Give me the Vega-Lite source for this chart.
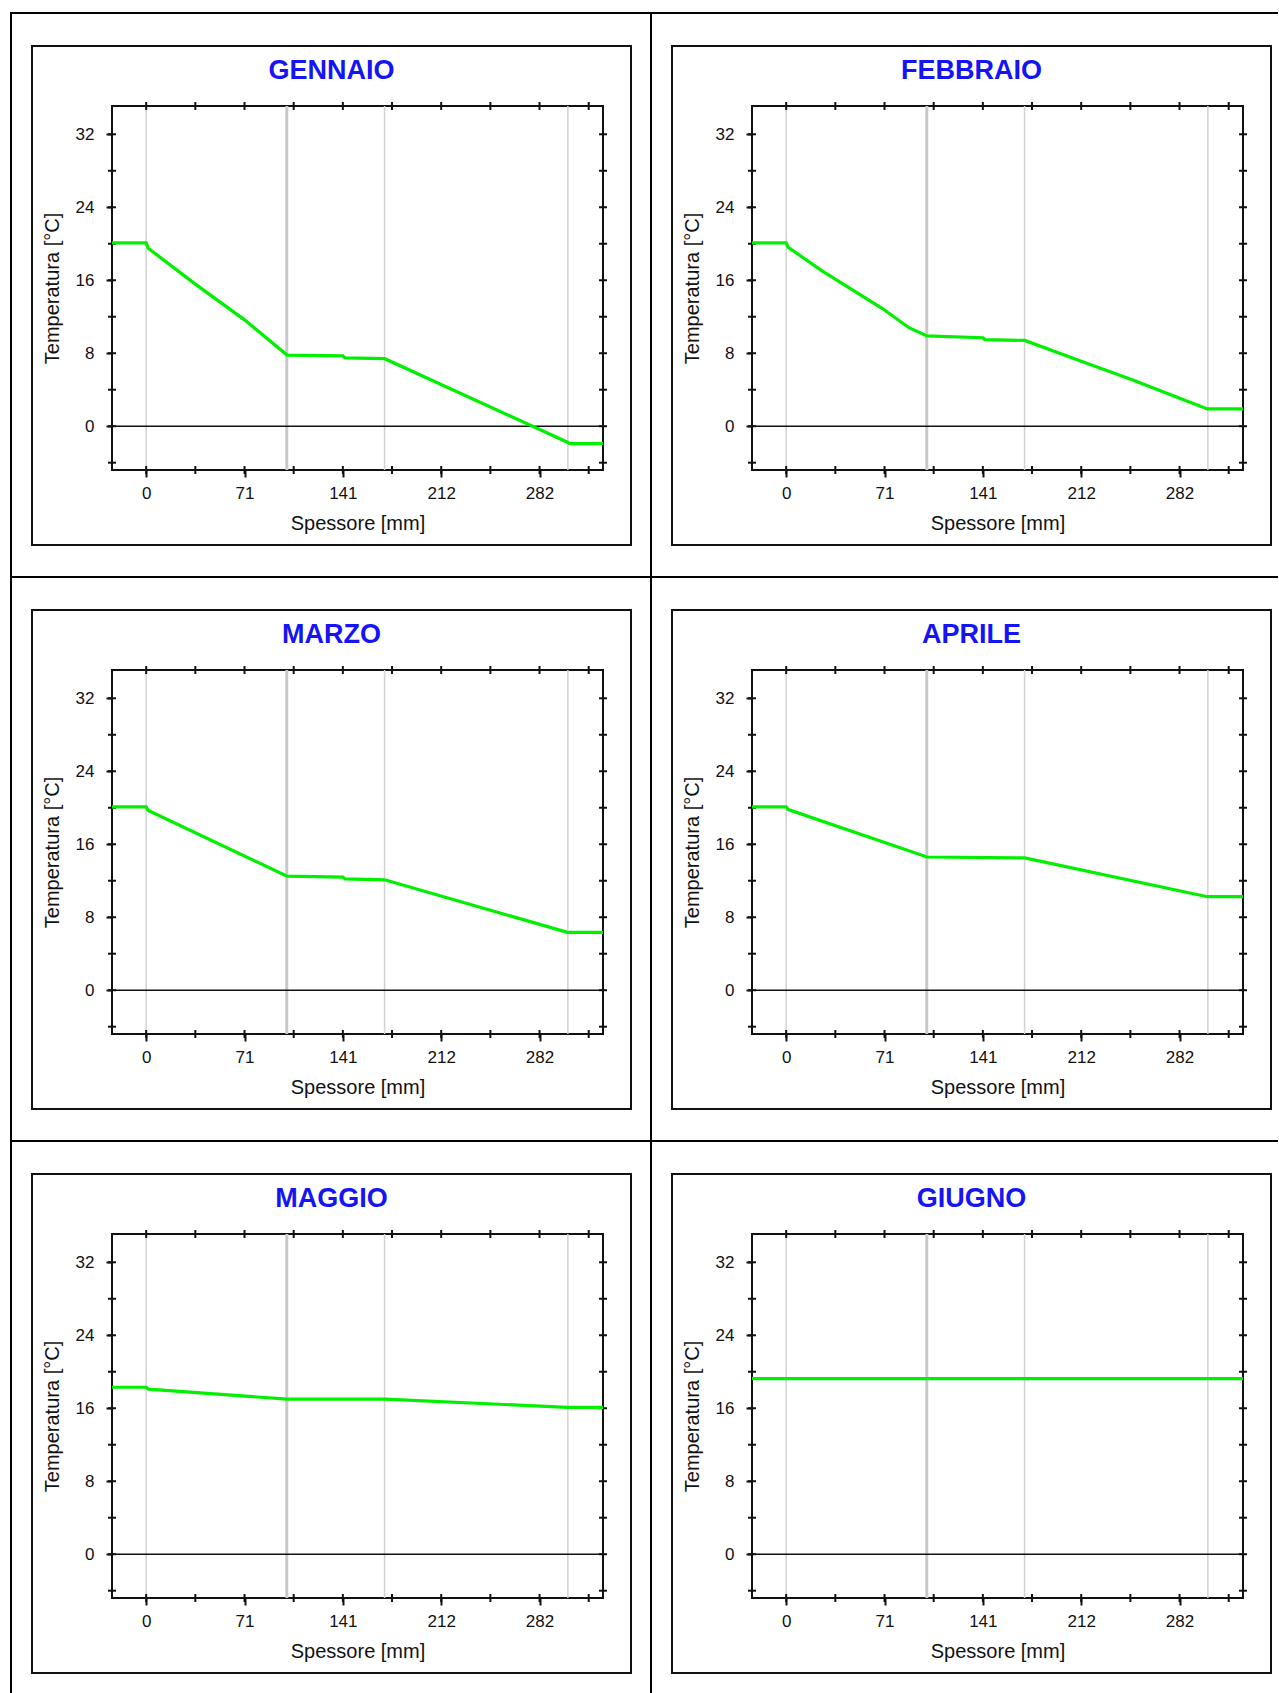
{
"$schema": "https://vega.github.io/schema/vega-lite/v6.json",
"background": "white",
"padding": {"left": 8, "top": 10, "right": 0, "bottom": 0},
"autosize": {"type": "pad"},
"columns": 2,
"spacing": {"row": 200, "column": 149},
"bounds": "flush",
"datasets": {
"strati": [
{"x": 0, "tipo": "sottile"},
{"x": 100.8, "tipo": "spesso"},
{"x": 170.9, "tipo": "sottile"},
{"x": 302.3, "tipo": "sottile"}
],
"tacche_x": [{"v": 0}, {"v": 35.25}, {"v": 70.5}, {"v": 105.75}, {"v": 141}, {"v": 176.25}, {"v": 211.5}, {"v": 246.75}, {"v": 282}, {"v": 317.25}],
"tacche_y": [{"v": -4}, {"v": 0}, {"v": 4}, {"v": 8}, {"v": 12}, {"v": 16}, {"v": 20}, {"v": 24}, {"v": 28}, {"v": 32}],
"temperature": [
{"mese": "GENNAIO", "x": -24.5, "t": 20.1},
{"mese": "GENNAIO", "x": 0, "t": 20.1},
{"mese": "GENNAIO", "x": 1.5, "t": 19.5},
{"mese": "GENNAIO", "x": 35, "t": 15.6},
{"mese": "GENNAIO", "x": 71, "t": 11.6},
{"mese": "GENNAIO", "x": 101, "t": 7.8},
{"mese": "GENNAIO", "x": 141, "t": 7.7},
{"mese": "GENNAIO", "x": 142.5, "t": 7.5},
{"mese": "GENNAIO", "x": 171, "t": 7.4},
{"mese": "GENNAIO", "x": 302, "t": -1.75},
{"mese": "GENNAIO", "x": 303.5, "t": -1.9},
{"mese": "GENNAIO", "x": 327.5, "t": -1.9},
{"mese": "FEBBRAIO", "x": -24.5, "t": 20.1},
{"mese": "FEBBRAIO", "x": 0, "t": 20.1},
{"mese": "FEBBRAIO", "x": 1.5, "t": 19.6},
{"mese": "FEBBRAIO", "x": 26, "t": 17.0},
{"mese": "FEBBRAIO", "x": 69, "t": 12.9},
{"mese": "FEBBRAIO", "x": 88, "t": 10.8},
{"mese": "FEBBRAIO", "x": 101, "t": 9.9},
{"mese": "FEBBRAIO", "x": 141, "t": 9.7},
{"mese": "FEBBRAIO", "x": 142.5, "t": 9.5},
{"mese": "FEBBRAIO", "x": 171, "t": 9.4},
{"mese": "FEBBRAIO", "x": 212, "t": 7.1},
{"mese": "FEBBRAIO", "x": 248, "t": 5.1},
{"mese": "FEBBRAIO", "x": 283, "t": 3.0},
{"mese": "FEBBRAIO", "x": 302, "t": 1.9},
{"mese": "FEBBRAIO", "x": 327.5, "t": 1.9},
{"mese": "MARZO", "x": -24.5, "t": 20.1},
{"mese": "MARZO", "x": 0, "t": 20.1},
{"mese": "MARZO", "x": 1.5, "t": 19.7},
{"mese": "MARZO", "x": 101, "t": 12.5},
{"mese": "MARZO", "x": 141, "t": 12.4},
{"mese": "MARZO", "x": 142.5, "t": 12.2},
{"mese": "MARZO", "x": 171, "t": 12.1},
{"mese": "MARZO", "x": 302, "t": 6.35},
{"mese": "MARZO", "x": 327.5, "t": 6.35},
{"mese": "APRILE", "x": -24.5, "t": 20.1},
{"mese": "APRILE", "x": 0, "t": 20.1},
{"mese": "APRILE", "x": 1.5, "t": 19.8},
{"mese": "APRILE", "x": 101, "t": 14.6},
{"mese": "APRILE", "x": 171, "t": 14.5},
{"mese": "APRILE", "x": 302, "t": 10.25},
{"mese": "APRILE", "x": 327.5, "t": 10.25},
{"mese": "MAGGIO", "x": -24.5, "t": 18.3},
{"mese": "MAGGIO", "x": 0, "t": 18.3},
{"mese": "MAGGIO", "x": 1.5, "t": 18.1},
{"mese": "MAGGIO", "x": 101, "t": 17.0},
{"mese": "MAGGIO", "x": 171, "t": 17.0},
{"mese": "MAGGIO", "x": 302, "t": 16.1},
{"mese": "MAGGIO", "x": 327.5, "t": 16.1},
{"mese": "GIUGNO", "x": -24.5, "t": 19.25},
{"mese": "GIUGNO", "x": 0, "t": 19.25},
{"mese": "GIUGNO", "x": 101, "t": 19.25},
{"mese": "GIUGNO", "x": 171, "t": 19.25},
{"mese": "GIUGNO", "x": 302, "t": 19.25},
{"mese": "GIUGNO", "x": 327.5, "t": 19.25}
]
},
"concat": [
{
"width": 491, "height": 364,
"layer": [
{"data": {"name": "temperature"}, "transform": [{"filter": "datum.mese === 'GENNAIO'"}], "mark": {"type": "line", "opacity": 0},
 "encoding": {
  "x": {"field": "x", "type": "quantitative", "scale": {"domain": [-24.5, 327.5], "nice": false, "zero": false}, "axis": {"orient": "bottom", "values": [0,70.5,141,211.5,282], "format": ".0f", "tickSize": 7, "labelPadding": 16, "labelBaseline": "middle", "title": "Spessore [mm]", "titleY": 53, "titleBaseline": "middle"}},
  "y": {"field": "t", "type": "quantitative", "scale": {"domain": [-4.8, 35.1], "nice": false, "zero": false}, "axis": {"orient": "left", "values": [0,8,16,24,32], "tickSize": 6, "labelPadding": 12, "title": "Temperatura [°C]", "titleX": -60, "titleY": 182, "titleAngle": 270, "titleBaseline": "middle", "titleAlign": "center"}}}},
{"data": {"values": [{}]}, "mark": {"type": "rule", "color": "#000", "strokeWidth": 2, "strokeCap": "square"},
 "encoding": {"x": {"datum": -96.91, "type": "quantitative"}, "y": {"datum": 45.29, "type": "quantitative"}, "y2": {"datum": -16.53}}},
{"data": {"values": [{}]}, "mark": {"type": "rule", "color": "#000", "strokeWidth": 2, "strokeCap": "square"},
 "encoding": {"y": {"datum": 45.29, "type": "quantitative"}, "x": {"datum": -96.91, "type": "quantitative"}, "x2": {"datum": 361.91}}},
{"data": {"values": [{}]}, "mark": {"type": "rect", "filled": false, "stroke": "#111", "strokeWidth": 2},
 "encoding": {"x": {"datum": -81.85, "type": "quantitative"}, "x2": {"datum": 347.57}, "y": {"datum": 41.68, "type": "quantitative"}, "y2": {"datum": -13.02}}},
{"data": {"values": [{"mese": "GENNAIO"}]}, "mark": {"type": "text", "font": "Liberation Sans", "fontSize": 27, "fontWeight": "bold", "color": "#1414f5", "align": "center", "baseline": "middle"},
 "encoding": {"x": {"datum": 132.86, "type": "quantitative"}, "y": {"datum": 38.94, "type": "quantitative"}, "text": {"field": "mese"}}},
{"data": {"name": "strati"}, "transform": [{"filter": "datum.tipo === 'sottile'"}], "mark": {"type": "rule", "color": "#d2d2d2", "strokeWidth": 1.5},
 "encoding": {"x": {"field": "x", "type": "quantitative"}}},
{"data": {"name": "strati"}, "transform": [{"filter": "datum.tipo === 'spesso'"}], "mark": {"type": "rule", "color": "#c8c8c8", "strokeWidth": 3},
 "encoding": {"x": {"field": "x", "type": "quantitative"}}},
{"data": {"values": [{}]}, "mark": {"type": "rule", "color": "#111", "strokeWidth": 1.5},
 "encoding": {"y": {"datum": 0, "type": "quantitative"}}},
{"data": {"name": "tacche_x"}, "mark": {"type": "tick", "orient": "vertical", "size": 8, "thickness": 2, "color": "#111", "opacity": 1},
 "encoding": {"x": {"field": "v", "type": "quantitative"}, "y": {"datum": -4.8, "type": "quantitative"}}},
{"data": {"name": "tacche_x"}, "mark": {"type": "tick", "orient": "vertical", "size": 8, "thickness": 2, "color": "#111", "opacity": 1},
 "encoding": {"x": {"field": "v", "type": "quantitative"}, "y": {"datum": 35.1, "type": "quantitative"}}},
{"data": {"name": "tacche_y"}, "mark": {"type": "tick", "orient": "horizontal", "size": 8, "thickness": 2, "color": "#111", "opacity": 1},
 "encoding": {"y": {"field": "v", "type": "quantitative"}, "x": {"datum": -24.5, "type": "quantitative"}}},
{"data": {"name": "tacche_y"}, "mark": {"type": "tick", "orient": "horizontal", "size": 8, "thickness": 2, "color": "#111", "opacity": 1},
 "encoding": {"y": {"field": "v", "type": "quantitative"}, "x": {"datum": 327.5, "type": "quantitative"}}},
{"data": {"name": "temperature"}, "transform": [{"filter": "datum.mese === 'GENNAIO'"}], "mark": {"type": "line", "color": "#00f000", "strokeWidth": 3.2},
 "encoding": {"x": {"field": "x", "type": "quantitative"}, "y": {"field": "t", "type": "quantitative"}}}
]
},
{
"width": 491, "height": 364,
"layer": [
{"data": {"name": "temperature"}, "transform": [{"filter": "datum.mese === 'FEBBRAIO'"}], "mark": {"type": "line", "opacity": 0},
 "encoding": {
  "x": {"field": "x", "type": "quantitative", "scale": {"domain": [-24.5, 327.5], "nice": false, "zero": false}, "axis": {"orient": "bottom", "values": [0,70.5,141,211.5,282], "format": ".0f", "tickSize": 7, "labelPadding": 16, "labelBaseline": "middle", "title": "Spessore [mm]", "titleY": 53, "titleBaseline": "middle"}},
  "y": {"field": "t", "type": "quantitative", "scale": {"domain": [-4.8, 35.1], "nice": false, "zero": false}, "axis": {"orient": "left", "values": [0,8,16,24,32], "tickSize": 6, "labelPadding": 12, "title": "Temperatura [°C]", "titleX": -60, "titleY": 182, "titleAngle": 270, "titleBaseline": "middle", "titleAlign": "center"}}}},
{"data": {"values": [{}]}, "mark": {"type": "rule", "color": "#000", "strokeWidth": 2, "strokeCap": "square"},
 "encoding": {"x": {"datum": -96.91, "type": "quantitative"}, "y": {"datum": 45.29, "type": "quantitative"}, "y2": {"datum": -16.53}}},
{"data": {"values": [{}]}, "mark": {"type": "rule", "color": "#000", "strokeWidth": 2, "strokeCap": "square"},
 "encoding": {"y": {"datum": 45.29, "type": "quantitative"}, "x": {"datum": -96.91, "type": "quantitative"}, "x2": {"datum": 351.87}}},
{"data": {"values": [{}]}, "mark": {"type": "rect", "filled": false, "stroke": "#111", "strokeWidth": 2},
 "encoding": {"x": {"datum": -81.85, "type": "quantitative"}, "x2": {"datum": 347.57}, "y": {"datum": 41.68, "type": "quantitative"}, "y2": {"datum": -13.02}}},
{"data": {"values": [{"mese": "FEBBRAIO"}]}, "mark": {"type": "text", "font": "Liberation Sans", "fontSize": 27, "fontWeight": "bold", "color": "#1414f5", "align": "center", "baseline": "middle"},
 "encoding": {"x": {"datum": 132.86, "type": "quantitative"}, "y": {"datum": 38.94, "type": "quantitative"}, "text": {"field": "mese"}}},
{"data": {"name": "strati"}, "transform": [{"filter": "datum.tipo === 'sottile'"}], "mark": {"type": "rule", "color": "#d2d2d2", "strokeWidth": 1.5},
 "encoding": {"x": {"field": "x", "type": "quantitative"}}},
{"data": {"name": "strati"}, "transform": [{"filter": "datum.tipo === 'spesso'"}], "mark": {"type": "rule", "color": "#c8c8c8", "strokeWidth": 3},
 "encoding": {"x": {"field": "x", "type": "quantitative"}}},
{"data": {"values": [{}]}, "mark": {"type": "rule", "color": "#111", "strokeWidth": 1.5},
 "encoding": {"y": {"datum": 0, "type": "quantitative"}}},
{"data": {"name": "tacche_x"}, "mark": {"type": "tick", "orient": "vertical", "size": 8, "thickness": 2, "color": "#111", "opacity": 1},
 "encoding": {"x": {"field": "v", "type": "quantitative"}, "y": {"datum": -4.8, "type": "quantitative"}}},
{"data": {"name": "tacche_x"}, "mark": {"type": "tick", "orient": "vertical", "size": 8, "thickness": 2, "color": "#111", "opacity": 1},
 "encoding": {"x": {"field": "v", "type": "quantitative"}, "y": {"datum": 35.1, "type": "quantitative"}}},
{"data": {"name": "tacche_y"}, "mark": {"type": "tick", "orient": "horizontal", "size": 8, "thickness": 2, "color": "#111", "opacity": 1},
 "encoding": {"y": {"field": "v", "type": "quantitative"}, "x": {"datum": -24.5, "type": "quantitative"}}},
{"data": {"name": "tacche_y"}, "mark": {"type": "tick", "orient": "horizontal", "size": 8, "thickness": 2, "color": "#111", "opacity": 1},
 "encoding": {"y": {"field": "v", "type": "quantitative"}, "x": {"datum": 327.5, "type": "quantitative"}}},
{"data": {"name": "temperature"}, "transform": [{"filter": "datum.mese === 'FEBBRAIO'"}], "mark": {"type": "line", "color": "#00f000", "strokeWidth": 3.2},
 "encoding": {"x": {"field": "x", "type": "quantitative"}, "y": {"field": "t", "type": "quantitative"}}}
]
},
{
"width": 491, "height": 364,
"layer": [
{"data": {"name": "temperature"}, "transform": [{"filter": "datum.mese === 'MARZO'"}], "mark": {"type": "line", "opacity": 0},
 "encoding": {
  "x": {"field": "x", "type": "quantitative", "scale": {"domain": [-24.5, 327.5], "nice": false, "zero": false}, "axis": {"orient": "bottom", "values": [0,70.5,141,211.5,282], "format": ".0f", "tickSize": 7, "labelPadding": 16, "labelBaseline": "middle", "title": "Spessore [mm]", "titleY": 53, "titleBaseline": "middle"}},
  "y": {"field": "t", "type": "quantitative", "scale": {"domain": [-4.8, 35.1], "nice": false, "zero": false}, "axis": {"orient": "left", "values": [0,8,16,24,32], "tickSize": 6, "labelPadding": 12, "title": "Temperatura [°C]", "titleX": -60, "titleY": 182, "titleAngle": 270, "titleBaseline": "middle", "titleAlign": "center"}}}},
{"data": {"values": [{}]}, "mark": {"type": "rule", "color": "#000", "strokeWidth": 2, "strokeCap": "square"},
 "encoding": {"x": {"datum": -96.91, "type": "quantitative"}, "y": {"datum": 45.29, "type": "quantitative"}, "y2": {"datum": -16.53}}},
{"data": {"values": [{}]}, "mark": {"type": "rule", "color": "#000", "strokeWidth": 2, "strokeCap": "square"},
 "encoding": {"y": {"datum": 45.29, "type": "quantitative"}, "x": {"datum": -96.91, "type": "quantitative"}, "x2": {"datum": 361.91}}},
{"data": {"values": [{}]}, "mark": {"type": "rect", "filled": false, "stroke": "#111", "strokeWidth": 2},
 "encoding": {"x": {"datum": -81.85, "type": "quantitative"}, "x2": {"datum": 347.57}, "y": {"datum": 41.68, "type": "quantitative"}, "y2": {"datum": -13.02}}},
{"data": {"values": [{"mese": "MARZO"}]}, "mark": {"type": "text", "font": "Liberation Sans", "fontSize": 27, "fontWeight": "bold", "color": "#1414f5", "align": "center", "baseline": "middle"},
 "encoding": {"x": {"datum": 132.86, "type": "quantitative"}, "y": {"datum": 38.94, "type": "quantitative"}, "text": {"field": "mese"}}},
{"data": {"name": "strati"}, "transform": [{"filter": "datum.tipo === 'sottile'"}], "mark": {"type": "rule", "color": "#d2d2d2", "strokeWidth": 1.5},
 "encoding": {"x": {"field": "x", "type": "quantitative"}}},
{"data": {"name": "strati"}, "transform": [{"filter": "datum.tipo === 'spesso'"}], "mark": {"type": "rule", "color": "#c8c8c8", "strokeWidth": 3},
 "encoding": {"x": {"field": "x", "type": "quantitative"}}},
{"data": {"values": [{}]}, "mark": {"type": "rule", "color": "#111", "strokeWidth": 1.5},
 "encoding": {"y": {"datum": 0, "type": "quantitative"}}},
{"data": {"name": "tacche_x"}, "mark": {"type": "tick", "orient": "vertical", "size": 8, "thickness": 2, "color": "#111", "opacity": 1},
 "encoding": {"x": {"field": "v", "type": "quantitative"}, "y": {"datum": -4.8, "type": "quantitative"}}},
{"data": {"name": "tacche_x"}, "mark": {"type": "tick", "orient": "vertical", "size": 8, "thickness": 2, "color": "#111", "opacity": 1},
 "encoding": {"x": {"field": "v", "type": "quantitative"}, "y": {"datum": 35.1, "type": "quantitative"}}},
{"data": {"name": "tacche_y"}, "mark": {"type": "tick", "orient": "horizontal", "size": 8, "thickness": 2, "color": "#111", "opacity": 1},
 "encoding": {"y": {"field": "v", "type": "quantitative"}, "x": {"datum": -24.5, "type": "quantitative"}}},
{"data": {"name": "tacche_y"}, "mark": {"type": "tick", "orient": "horizontal", "size": 8, "thickness": 2, "color": "#111", "opacity": 1},
 "encoding": {"y": {"field": "v", "type": "quantitative"}, "x": {"datum": 327.5, "type": "quantitative"}}},
{"data": {"name": "temperature"}, "transform": [{"filter": "datum.mese === 'MARZO'"}], "mark": {"type": "line", "color": "#00f000", "strokeWidth": 3.2},
 "encoding": {"x": {"field": "x", "type": "quantitative"}, "y": {"field": "t", "type": "quantitative"}}}
]
},
{
"width": 491, "height": 364,
"layer": [
{"data": {"name": "temperature"}, "transform": [{"filter": "datum.mese === 'APRILE'"}], "mark": {"type": "line", "opacity": 0},
 "encoding": {
  "x": {"field": "x", "type": "quantitative", "scale": {"domain": [-24.5, 327.5], "nice": false, "zero": false}, "axis": {"orient": "bottom", "values": [0,70.5,141,211.5,282], "format": ".0f", "tickSize": 7, "labelPadding": 16, "labelBaseline": "middle", "title": "Spessore [mm]", "titleY": 53, "titleBaseline": "middle"}},
  "y": {"field": "t", "type": "quantitative", "scale": {"domain": [-4.8, 35.1], "nice": false, "zero": false}, "axis": {"orient": "left", "values": [0,8,16,24,32], "tickSize": 6, "labelPadding": 12, "title": "Temperatura [°C]", "titleX": -60, "titleY": 182, "titleAngle": 270, "titleBaseline": "middle", "titleAlign": "center"}}}},
{"data": {"values": [{}]}, "mark": {"type": "rule", "color": "#000", "strokeWidth": 2, "strokeCap": "square"},
 "encoding": {"x": {"datum": -96.91, "type": "quantitative"}, "y": {"datum": 45.29, "type": "quantitative"}, "y2": {"datum": -16.53}}},
{"data": {"values": [{}]}, "mark": {"type": "rule", "color": "#000", "strokeWidth": 2, "strokeCap": "square"},
 "encoding": {"y": {"datum": 45.29, "type": "quantitative"}, "x": {"datum": -96.91, "type": "quantitative"}, "x2": {"datum": 351.87}}},
{"data": {"values": [{}]}, "mark": {"type": "rect", "filled": false, "stroke": "#111", "strokeWidth": 2},
 "encoding": {"x": {"datum": -81.85, "type": "quantitative"}, "x2": {"datum": 347.57}, "y": {"datum": 41.68, "type": "quantitative"}, "y2": {"datum": -13.02}}},
{"data": {"values": [{"mese": "APRILE"}]}, "mark": {"type": "text", "font": "Liberation Sans", "fontSize": 27, "fontWeight": "bold", "color": "#1414f5", "align": "center", "baseline": "middle"},
 "encoding": {"x": {"datum": 132.86, "type": "quantitative"}, "y": {"datum": 38.94, "type": "quantitative"}, "text": {"field": "mese"}}},
{"data": {"name": "strati"}, "transform": [{"filter": "datum.tipo === 'sottile'"}], "mark": {"type": "rule", "color": "#d2d2d2", "strokeWidth": 1.5},
 "encoding": {"x": {"field": "x", "type": "quantitative"}}},
{"data": {"name": "strati"}, "transform": [{"filter": "datum.tipo === 'spesso'"}], "mark": {"type": "rule", "color": "#c8c8c8", "strokeWidth": 3},
 "encoding": {"x": {"field": "x", "type": "quantitative"}}},
{"data": {"values": [{}]}, "mark": {"type": "rule", "color": "#111", "strokeWidth": 1.5},
 "encoding": {"y": {"datum": 0, "type": "quantitative"}}},
{"data": {"name": "tacche_x"}, "mark": {"type": "tick", "orient": "vertical", "size": 8, "thickness": 2, "color": "#111", "opacity": 1},
 "encoding": {"x": {"field": "v", "type": "quantitative"}, "y": {"datum": -4.8, "type": "quantitative"}}},
{"data": {"name": "tacche_x"}, "mark": {"type": "tick", "orient": "vertical", "size": 8, "thickness": 2, "color": "#111", "opacity": 1},
 "encoding": {"x": {"field": "v", "type": "quantitative"}, "y": {"datum": 35.1, "type": "quantitative"}}},
{"data": {"name": "tacche_y"}, "mark": {"type": "tick", "orient": "horizontal", "size": 8, "thickness": 2, "color": "#111", "opacity": 1},
 "encoding": {"y": {"field": "v", "type": "quantitative"}, "x": {"datum": -24.5, "type": "quantitative"}}},
{"data": {"name": "tacche_y"}, "mark": {"type": "tick", "orient": "horizontal", "size": 8, "thickness": 2, "color": "#111", "opacity": 1},
 "encoding": {"y": {"field": "v", "type": "quantitative"}, "x": {"datum": 327.5, "type": "quantitative"}}},
{"data": {"name": "temperature"}, "transform": [{"filter": "datum.mese === 'APRILE'"}], "mark": {"type": "line", "color": "#00f000", "strokeWidth": 3.2},
 "encoding": {"x": {"field": "x", "type": "quantitative"}, "y": {"field": "t", "type": "quantitative"}}}
]
},
{
"width": 491, "height": 364,
"layer": [
{"data": {"name": "temperature"}, "transform": [{"filter": "datum.mese === 'MAGGIO'"}], "mark": {"type": "line", "opacity": 0},
 "encoding": {
  "x": {"field": "x", "type": "quantitative", "scale": {"domain": [-24.5, 327.5], "nice": false, "zero": false}, "axis": {"orient": "bottom", "values": [0,70.5,141,211.5,282], "format": ".0f", "tickSize": 7, "labelPadding": 16, "labelBaseline": "middle", "title": "Spessore [mm]", "titleY": 53, "titleBaseline": "middle"}},
  "y": {"field": "t", "type": "quantitative", "scale": {"domain": [-4.8, 35.1], "nice": false, "zero": false}, "axis": {"orient": "left", "values": [0,8,16,24,32], "tickSize": 6, "labelPadding": 12, "title": "Temperatura [°C]", "titleX": -60, "titleY": 182, "titleAngle": 270, "titleBaseline": "middle", "titleAlign": "center"}}}},
{"data": {"values": [{}]}, "mark": {"type": "rule", "color": "#000", "strokeWidth": 2, "strokeCap": "square"},
 "encoding": {"x": {"datum": -96.91, "type": "quantitative"}, "y": {"datum": 45.29, "type": "quantitative"}, "y2": {"datum": -15.10}}},
{"data": {"values": [{}]}, "mark": {"type": "rule", "color": "#000", "strokeWidth": 2, "strokeCap": "square"},
 "encoding": {"y": {"datum": 45.29, "type": "quantitative"}, "x": {"datum": -96.91, "type": "quantitative"}, "x2": {"datum": 361.91}}},
{"data": {"values": [{}]}, "mark": {"type": "rect", "filled": false, "stroke": "#111", "strokeWidth": 2},
 "encoding": {"x": {"datum": -81.85, "type": "quantitative"}, "x2": {"datum": 347.57}, "y": {"datum": 41.68, "type": "quantitative"}, "y2": {"datum": -13.02}}},
{"data": {"values": [{"mese": "MAGGIO"}]}, "mark": {"type": "text", "font": "Liberation Sans", "fontSize": 27, "fontWeight": "bold", "color": "#1414f5", "align": "center", "baseline": "middle"},
 "encoding": {"x": {"datum": 132.86, "type": "quantitative"}, "y": {"datum": 38.94, "type": "quantitative"}, "text": {"field": "mese"}}},
{"data": {"name": "strati"}, "transform": [{"filter": "datum.tipo === 'sottile'"}], "mark": {"type": "rule", "color": "#d2d2d2", "strokeWidth": 1.5},
 "encoding": {"x": {"field": "x", "type": "quantitative"}}},
{"data": {"name": "strati"}, "transform": [{"filter": "datum.tipo === 'spesso'"}], "mark": {"type": "rule", "color": "#c8c8c8", "strokeWidth": 3},
 "encoding": {"x": {"field": "x", "type": "quantitative"}}},
{"data": {"values": [{}]}, "mark": {"type": "rule", "color": "#111", "strokeWidth": 1.5},
 "encoding": {"y": {"datum": 0, "type": "quantitative"}}},
{"data": {"name": "tacche_x"}, "mark": {"type": "tick", "orient": "vertical", "size": 8, "thickness": 2, "color": "#111", "opacity": 1},
 "encoding": {"x": {"field": "v", "type": "quantitative"}, "y": {"datum": -4.8, "type": "quantitative"}}},
{"data": {"name": "tacche_x"}, "mark": {"type": "tick", "orient": "vertical", "size": 8, "thickness": 2, "color": "#111", "opacity": 1},
 "encoding": {"x": {"field": "v", "type": "quantitative"}, "y": {"datum": 35.1, "type": "quantitative"}}},
{"data": {"name": "tacche_y"}, "mark": {"type": "tick", "orient": "horizontal", "size": 8, "thickness": 2, "color": "#111", "opacity": 1},
 "encoding": {"y": {"field": "v", "type": "quantitative"}, "x": {"datum": -24.5, "type": "quantitative"}}},
{"data": {"name": "tacche_y"}, "mark": {"type": "tick", "orient": "horizontal", "size": 8, "thickness": 2, "color": "#111", "opacity": 1},
 "encoding": {"y": {"field": "v", "type": "quantitative"}, "x": {"datum": 327.5, "type": "quantitative"}}},
{"data": {"name": "temperature"}, "transform": [{"filter": "datum.mese === 'MAGGIO'"}], "mark": {"type": "line", "color": "#00f000", "strokeWidth": 3.2},
 "encoding": {"x": {"field": "x", "type": "quantitative"}, "y": {"field": "t", "type": "quantitative"}}}
]
},
{
"width": 491, "height": 364,
"layer": [
{"data": {"name": "temperature"}, "transform": [{"filter": "datum.mese === 'GIUGNO'"}], "mark": {"type": "line", "opacity": 0},
 "encoding": {
  "x": {"field": "x", "type": "quantitative", "scale": {"domain": [-24.5, 327.5], "nice": false, "zero": false}, "axis": {"orient": "bottom", "values": [0,70.5,141,211.5,282], "format": ".0f", "tickSize": 7, "labelPadding": 16, "labelBaseline": "middle", "title": "Spessore [mm]", "titleY": 53, "titleBaseline": "middle"}},
  "y": {"field": "t", "type": "quantitative", "scale": {"domain": [-4.8, 35.1], "nice": false, "zero": false}, "axis": {"orient": "left", "values": [0,8,16,24,32], "tickSize": 6, "labelPadding": 12, "title": "Temperatura [°C]", "titleX": -60, "titleY": 182, "titleAngle": 270, "titleBaseline": "middle", "titleAlign": "center"}}}},
{"data": {"values": [{}]}, "mark": {"type": "rule", "color": "#000", "strokeWidth": 2, "strokeCap": "square"},
 "encoding": {"x": {"datum": -96.91, "type": "quantitative"}, "y": {"datum": 45.29, "type": "quantitative"}, "y2": {"datum": -15.10}}},
{"data": {"values": [{}]}, "mark": {"type": "rule", "color": "#000", "strokeWidth": 2, "strokeCap": "square"},
 "encoding": {"y": {"datum": 45.29, "type": "quantitative"}, "x": {"datum": -96.91, "type": "quantitative"}, "x2": {"datum": 351.87}}},
{"data": {"values": [{}]}, "mark": {"type": "rect", "filled": false, "stroke": "#111", "strokeWidth": 2},
 "encoding": {"x": {"datum": -81.85, "type": "quantitative"}, "x2": {"datum": 347.57}, "y": {"datum": 41.68, "type": "quantitative"}, "y2": {"datum": -13.02}}},
{"data": {"values": [{"mese": "GIUGNO"}]}, "mark": {"type": "text", "font": "Liberation Sans", "fontSize": 27, "fontWeight": "bold", "color": "#1414f5", "align": "center", "baseline": "middle"},
 "encoding": {"x": {"datum": 132.86, "type": "quantitative"}, "y": {"datum": 38.94, "type": "quantitative"}, "text": {"field": "mese"}}},
{"data": {"name": "strati"}, "transform": [{"filter": "datum.tipo === 'sottile'"}], "mark": {"type": "rule", "color": "#d2d2d2", "strokeWidth": 1.5},
 "encoding": {"x": {"field": "x", "type": "quantitative"}}},
{"data": {"name": "strati"}, "transform": [{"filter": "datum.tipo === 'spesso'"}], "mark": {"type": "rule", "color": "#c8c8c8", "strokeWidth": 3},
 "encoding": {"x": {"field": "x", "type": "quantitative"}}},
{"data": {"values": [{}]}, "mark": {"type": "rule", "color": "#111", "strokeWidth": 1.5},
 "encoding": {"y": {"datum": 0, "type": "quantitative"}}},
{"data": {"name": "tacche_x"}, "mark": {"type": "tick", "orient": "vertical", "size": 8, "thickness": 2, "color": "#111", "opacity": 1},
 "encoding": {"x": {"field": "v", "type": "quantitative"}, "y": {"datum": -4.8, "type": "quantitative"}}},
{"data": {"name": "tacche_x"}, "mark": {"type": "tick", "orient": "vertical", "size": 8, "thickness": 2, "color": "#111", "opacity": 1},
 "encoding": {"x": {"field": "v", "type": "quantitative"}, "y": {"datum": 35.1, "type": "quantitative"}}},
{"data": {"name": "tacche_y"}, "mark": {"type": "tick", "orient": "horizontal", "size": 8, "thickness": 2, "color": "#111", "opacity": 1},
 "encoding": {"y": {"field": "v", "type": "quantitative"}, "x": {"datum": -24.5, "type": "quantitative"}}},
{"data": {"name": "tacche_y"}, "mark": {"type": "tick", "orient": "horizontal", "size": 8, "thickness": 2, "color": "#111", "opacity": 1},
 "encoding": {"y": {"field": "v", "type": "quantitative"}, "x": {"datum": 327.5, "type": "quantitative"}}},
{"data": {"name": "temperature"}, "transform": [{"filter": "datum.mese === 'GIUGNO'"}], "mark": {"type": "line", "color": "#00f000", "strokeWidth": 3.2},
 "encoding": {"x": {"field": "x", "type": "quantitative"}, "y": {"field": "t", "type": "quantitative"}}}
]
}
],
"config": {
"view": {"stroke": "#111", "strokeWidth": 2, "fill": "white"},
"axis": {"domain": false, "grid": false, "tickColor": "#111", "tickWidth": 2, "labelFont": "Liberation Sans", "labelFontSize": 17, "labelColor": "#111", "labelFlush": false, "titleFont": "Liberation Sans", "titleFontSize": 20, "titleFontWeight": "normal", "titleColor": "#111"}
}
}
